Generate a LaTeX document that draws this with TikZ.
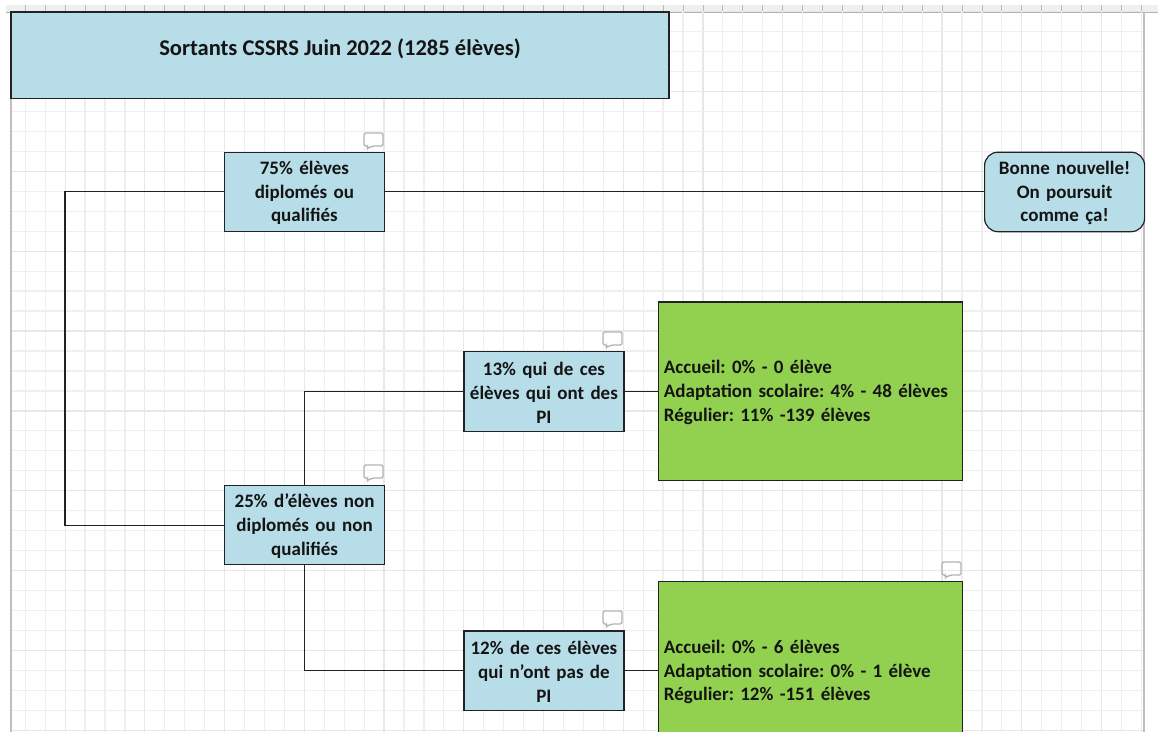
\documentclass[tikz,border=0pt]{standalone}
\usepackage{fontspec}
\setmainfont{Carlito}
\definecolor{boxblue}{HTML}{B7DDE8}
\definecolor{boxgreen}{HTML}{92D14F}
\definecolor{linedark}{HTML}{222222}
\definecolor{gridminor}{HTML}{EFEFEF}
\definecolor{gridmajor}{HTML}{E7E7E7}
\definecolor{iconc}{HTML}{B4B4B4}
\tikzset{
  x=0.75pt,y=-0.75pt,
  every node/.style={font=\frenchspacing\bfseries\fontsize{14.25pt}{17.7pt}\selectfont,text=black!92},
  box/.style={draw=linedark,line width=0.9pt,fill=boxblue,inner sep=0pt,outer sep=0pt,align=center,anchor=north west},
  smallbox/.style={box,minimum width=120pt,minimum height=59.6pt,text width=118pt,execute at begin node={\rule{0pt}{11.8pt}}},
  greenbox/.style={box,fill=boxgreen,minimum width=228pt,align=left,text width=220pt,execute at begin node={\rule{0pt}{11.8pt}}},
  conn/.style={draw=linedark,line width=0.8pt},
  pics/comment/.style={code={
    \draw[iconc,line width=1pt,rounded corners=1.5pt] (0,0) -- (19,0) -- (19,13) -- (8,13) -- (3,16) -- (4,13) -- (0,13) -- cycle;
  }}
}
\begin{document}
\begin{tikzpicture}
\useasboundingbox (0,0) rectangle (1158,732);
\fill[white] (0,0) rectangle (1158,732);
\begin{scope}
\clip (0,0) rectangle (1158,732);
% ruler
\fill[gridminor] (6,5) rectangle (1158,12);
\foreach \i in {0,...,56} \draw[gridmajor!80!black,line width=0.6pt] ({25.3+19.93*\i},5) -- ({25.3+19.93*\i},12);
\draw[black!30,line width=0.7pt] (6,12) -- (1158,12);
% grid
\foreach \i in {0,...,56} {
  \pgfmathtruncatemacro\m{Mod(\i,4)}
  \ifnum\m=2 \def\gc{gridmajor}\else\def\gc{gridminor}\fi
  \draw[\gc,line width=0.9pt] ({25.3+19.93*\i},12) -- ({25.3+19.93*\i},732);
}
\foreach \i in {0,...,36} {
  \pgfmathtruncatemacro\m{Mod(\i,4)}
  \ifnum\m=0 \def\gc{gridmajor}\else\def\gc{gridminor}\fi
  \draw[\gc,line width=0.9pt] (11,{11.5+19.97*\i}) -- (1144,{11.5+19.97*\i});
}
\draw[black!25,line width=0.8pt] (11,12) -- (11,732);
\draw[black!25,line width=0.8pt] (1144,12) -- (1144,732);
% nodes
\node[box,minimum width=493.5pt,minimum height=65pt,font=\frenchspacing\bfseries\fontsize{16.9pt}{17.7pt}\selectfont] (title) at (11,12) {Sortants CSSRS Juin 2022 (1285 élèves)\\[-5.5pt]\mbox{}};
\node[smallbox] (a) at (224.4,152.2) {75\% élèves\\diplomés ou\\qualifiés};
\node[smallbox,rounded corners=10pt] (good) at (984.6,152.2) {Bonne nouvelle!\\On poursuit\\comme ça!};
\node[smallbox] (b) at (224.6,485.4) {25\% d’élèves non\\diplomés ou non\\qualifiés};
\node[smallbox] (c) at (463.9,351.8) {13\% qui de ces\\élèves qui ont des\\PI};
\node[smallbox] (d) at (463.9,630.9) {12\% de ces élèves\\qui n’ont pas de\\PI};
\node[greenbox,minimum height=134pt] (e) at (658.6,302) {Accueil: 0\% - 0 élève\\Adaptation scolaire: 4\% - 48 élèves\\Régulier: 11\% -139 élèves};
\node[greenbox,minimum height=134pt] (f) at (658.6,581.5) {Accueil: 0\% - 6 élèves\\Adaptation scolaire: 0\% - 1 élève\\Régulier: 12\% -151 élèves};
% connectors
\coordinate (bend) at (65,300);
\draw[conn] (a.east) -- (good.west);
\draw[conn] (a.west) -| (bend) |- (b.west);
\draw[conn] (b.north) |- (c.west);
\draw[conn] (b.south) |- (d.west);
\draw[conn] (c.east) -- (e.west |- c.east);
\draw[conn] (d.east) -- (f.west |- d.east);
% comment icons
\pic at (364,133) {comment};
\pic at (603,332) {comment};
\pic at (364,465) {comment};
\pic at (603,611) {comment};
\pic at (942,562) {comment};
\end{scope}
\end{tikzpicture}
\end{document}
